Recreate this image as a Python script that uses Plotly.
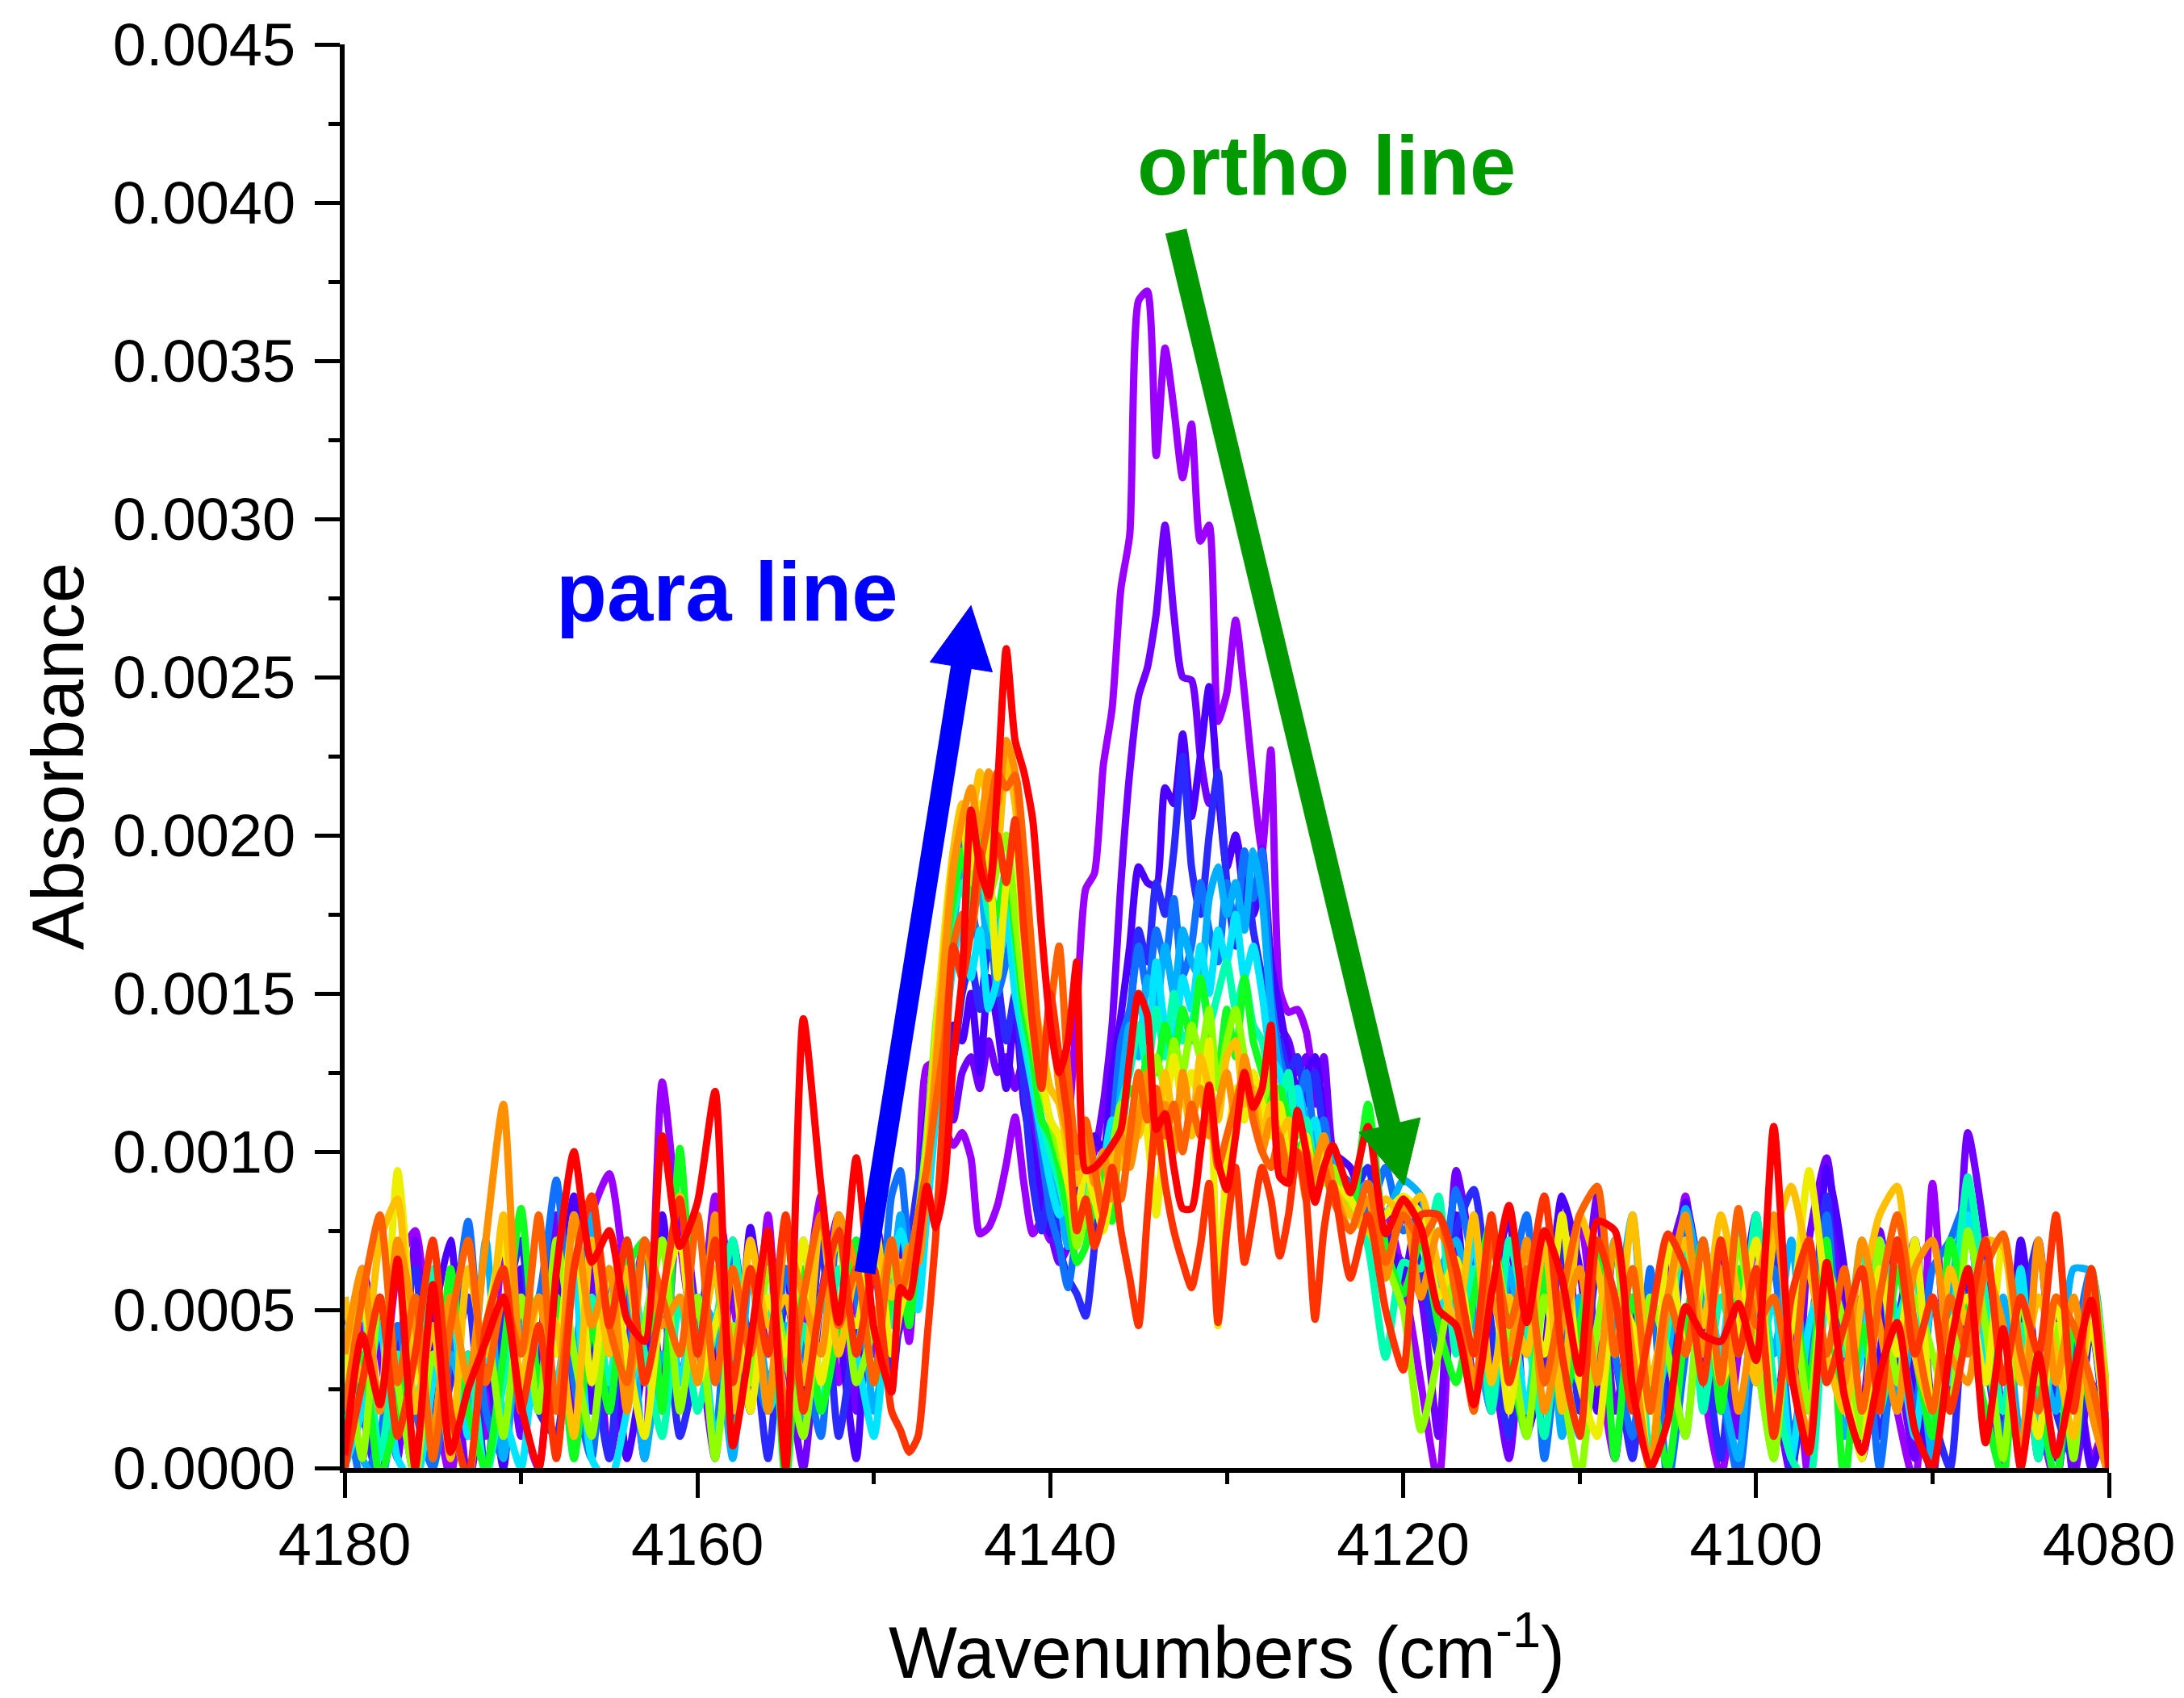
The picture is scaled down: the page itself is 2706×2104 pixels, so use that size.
import numpy as np
import plotly.graph_objects as go

# Wavenumber grid (cm^-1): 1 cm^-1 steps on the baselines, 0.5 cm^-1 across the H2 bands
wn_low = np.arange(4180, 4148.5, -1.0)      # 4180 ... 4149
wn_mid = np.arange(4148.5, 4123.75, -0.5)   # 4148.5 ... 4124
wn_high = np.arange(4123, 4079.5, -1.0)     # 4123 ... 4080
wavenumber = np.concatenate([wn_low, wn_mid, wn_high])

# Absorbance of each successive spectrum, in units of 1e-4
scan_01 = [
    0.3, 4.5, 1.8, 6.3, 7.5, 2.7, -0.3, 3.6, 1.0, 7.2, 1.8, 0.0, 5.4, 3.6, 8.0, 9.3,
    5.4, 0.3, 12.2, 7.2, 3.6, 8.6, 5.4, 1.8, 8.0, 0.3, 4.5, 8.6, 2.7, 5.4, 3.6, 7.2,
    6.0, 4.0, 8.5, 12.7, 12.8, 10.8, 10.2, 10.6, 9.8, 7.4, 7.6, 8.3, 9.6, 11.1, 9.0, 7.4,
    7.8, 7.2, 7.8, 10.5, 14.5, 18.3, 18.8, 22.2, 24.0, 27.8, 29.5, 36.9, 37.2, 32.0, 35.4, 33.5,
    31.3, 33.0, 29.3, 29.8, 23.6, 24.5, 26.8, 24.5, 21.7, 19.5, 22.7, 15.1, 14.4, 14.5, 13.8, 12.0,
    11.0, 9.5,
    9.0, 7.5, 8.0, 6.0, 2.7, -0.5, 7.2, 4.5, 1.8, 7.2, 3.6, 6.3, 1.8, 8.0, 3.6, 0.3,
    5.4, 1.8, 4.5, 8.6, 2.7, -0.3, 3.6, 7.2, 1.0, 4.5, -0.5, 8.0, 3.6, 1.0, 5.4, 1.8,
    -0.5, 9.0, 1.8, 8.0, 4.5, 0.0, 5.4, 1.8, -0.5, 3.6, 0.3, 1.8,
]
scan_02 = [
    -0.3, 6.3, 3.6, 0.3, 7.2, 1.8, 4.5, -0.5, 2.7, 5.4, 1.0, 3.6, 8.0, 1.8, 6.3, 0.3,
    3.6, 7.2, 2.7, 8.6, 4.5, 0.3, 6.3, 1.8, 7.2, 3.6, 0.0, 5.4, 8.0, 1.8, 6.3, 3.6,
    4.5, 6.0, 8.0, 10.5, 11.5, 12.0, 11.0, 12.5, 13.0, 12.0, 13.5, 12.5, 13.0, 12.0, 13.0, 10.5,
    9.0, 7.5, 6.5, 7.0, 8.5, 9.5, 10.0, 11.5, 14.0, 18.5, 22.0, 24.4, 25.3, 27.0, 29.8, 27.0,
    25.0, 24.9, 22.5, 21.0, 21.5, 19.0, 20.0, 18.5, 17.5, 19.6, 16.0, 14.0, 13.5, 12.5, 13.0, 11.5,
    13.0, 10.0,
    8.5, 9.0, 7.0, 6.5, 5.4, 1.0, 9.4, 6.3, 3.6, 0.3, 5.4, 2.7, 7.2, 4.5, 8.6, 1.8,
    4.5, -0.3, 6.3, 8.3, 3.6, 7.2, 1.0, 5.4, 2.7, -0.3, 7.2, 9.8, 4.5, 1.8, 7.5, 3.6,
    0.3, 5.4, 2.7, 10.6, 7.2, 1.8, 4.5, 0.3, 5.4, -0.3, 2.7, -0.5,
]
scan_03 = [
    1.8, 0.3, 5.4, 2.7, -0.3, 4.5, 7.2, 1.0, 3.6, 0.0, 6.3, 1.8, 4.5, 8.6, 1.8, 5.4,
    0.3, 3.6, 8.0, 2.7, 5.4, 3.6, 1.0, 7.6, 3.6, 6.3, 1.8, 7.2, 4.5, 0.3, 8.0, 5.4,
    7.0, 5.5, 8.5, 11.0, 13.0, 12.0, 14.0, 13.5, 15.0, 12.5, 15.5, 14.0, 12.0, 14.5, 11.5, 10.0,
    8.5, 7.4, 8.0, 9.5, 8.0, 9.0, 10.5, 10.0, 12.5, 14.3, 16.5, 19.0, 18.5, 18.4, 21.5, 21.0,
    23.2, 20.6, 22.5, 24.7, 21.5, 19.0, 20.0, 18.0, 17.5, 18.5, 16.0, 14.5, 13.0, 12.0, 12.5, 13.0,
    11.0, 10.0,
    9.5, 8.0, 7.5, 6.0, 8.6, 4.5, 8.0, 2.7, 5.4, 8.0, 1.0, 3.6, 8.6, 6.3, 1.8, 7.2,
    4.5, 0.3, 2.7, 8.4, 5.4, 1.8, 4.5, 8.0, 1.0, 5.4, 2.7, 9.5, 6.3, 0.3, 3.6, 7.2,
    2.7, -0.3, 5.4, 7.5, 4.5, 1.0, 7.2, 2.7, 0.3, 3.6, 0.0, 1.8,
]
scan_04 = [
    5.4, 1.8, -0.5, 3.6, 6.3, 0.3, 2.7, 5.4, -0.3, 4.5, 7.2, 1.8, 1.0, 6.3, 3.6, 0.3,
    7.2, 2.7, 5.4, 1.0, 3.6, 8.0, 1.8, 4.5, 0.3, 5.4, 2.7, 7.2, 1.0, 4.5, 6.3, 2.7,
    5.0, 7.0, 9.0, 10.5, 12.0, 14.5, 13.0, 15.0, 16.0, 14.5, 16.5, 15.5, 13.5, 15.0, 12.0, 9.0,
    7.5, 9.0, 7.0, 6.0, 5.5, 4.8, 7.0, 9.5, 11.0, 10.5, 14.0, 17.0, 16.0, 18.5, 17.5, 19.5,
    22.5, 19.0, 17.5, 20.0, 22.0, 18.5, 16.5, 19.0, 17.0, 15.5, 14.0, 13.5, 12.5, 13.0, 11.5, 12.5,
    10.5, 9.5,
    8.5, 9.5, 6.5, 8.0, 6.3, 3.6, 7.5, 8.8, 4.5, 1.0, 5.4, 2.7, 7.2, 1.8, 6.3, 3.6,
    0.3, 5.4, 1.8, 8.0, 4.5, 0.3, 5.4, 2.7, 7.2, 0.0, 3.6, 8.6, 1.8, 5.4, 1.0, 4.5,
    7.2, 1.8, 0.0, 6.3, 3.6, 0.3, 4.5, 7.2, 1.8, 0.3, 4.5, -0.3,
]
scan_05 = [
    2.7, -0.5, 1.0, 4.5, 1.8, 0.0, 3.6, 7.8, 1.8, 0.3, 4.5, 5.4, 9.1, 2.7, 0.3, 6.3,
    3.6, 7.2, 1.8, 5.4, 4.5, 1.0, 7.2, 3.6, 1.8, 6.3, 3.6, 1.0, 8.0, 5.4, 2.7, 8.6,
    9.4, 7.0, 6.5, 9.0, 12.0, 15.5, 18.0, 20.1, 18.0, 16.5, 17.5, 15.0, 16.0, 17.5, 15.0, 12.0,
    10.0, 8.0, 7.0, 5.7, 7.5, 8.5, 9.0, 8.0, 10.5, 13.5, 14.5, 16.5, 15.0, 17.0, 16.0, 18.0,
    15.5, 16.5, 18.5, 17.0, 16.0, 18.5, 17.0, 19.5, 18.0, 19.5, 15.0, 13.0, 12.0, 11.5, 12.5, 10.5,
    11.0, 9.5,
    9.0, 8.0, 9.5, 7.5, 8.0, 5.4, 8.8, 6.3, 1.8, 5.4, 8.0, 0.3, 4.5, 2.7, 7.2, 3.6,
    1.0, 6.3, -0.5, 3.6, 7.2, 2.7, -0.3, 4.5, 6.3, 1.0, 3.6, 8.0, 1.8, 5.4, 0.0, 4.5,
    1.8, 6.3, 7.2, 8.5, 3.6, 1.0, 5.4, 1.8, -0.3, 3.6, 6.3, 0.3,
]
scan_06 = [
    3.6, 0.3, -0.5, 2.7, 5.4, 1.0, 3.6, 1.8, 7.2, 0.3, 4.5, 1.8, 5.4, 3.6, 8.0, 1.8,
    6.3, 0.3, 3.6, 2.7, 5.4, 4.5, 0.3, 6.3, 2.7, 4.5, 1.0, 5.4, 3.6, 7.2, 1.8, 5.4,
    8.0, 6.0, 5.5, 8.5, 11.5, 14.0, 17.0, 19.0, 17.5, 18.5, 16.5, 17.0, 18.0, 16.0, 14.5, 12.5,
    11.0, 9.5, 8.5, 7.0, 8.0, 7.5, 9.0, 10.0, 9.5, 12.0, 14.0, 13.0, 15.5, 14.5, 16.5, 15.0,
    17.0, 16.0, 15.5, 18.0, 19.0, 17.5, 18.5, 17.0, 19.5, 18.0, 14.5, 12.5, 11.5, 12.0, 11.0, 10.5,
    9.5, 10.0,
    8.5, 9.0, 8.0, 9.1, 8.6, 6.3, 7.2, 4.5, 1.8, 6.3, 3.6, 7.2, 1.0, 5.4, 2.7, 4.5,
    8.0, 1.8, 3.6, 8.2, 5.4, 2.7, 0.3, 6.3, 3.6, 7.2, 1.8, 6.3, 1.0, 4.5, 7.2, 1.8,
    4.5, 0.3, 5.4, 8.6, 2.7, 5.4, 1.0, 3.6, 1.8, 6.3, 6.2, -0.5,
]
scan_07 = [
    0.0, 1.8, 4.5, 0.3, -0.5, 2.7, 5.4, 1.0, 3.6, 1.8, 0.0, 4.5, 2.7, 6.3, 0.3, -0.5,
    1.8, 4.5, 7.2, 2.7, 5.4, 1.0, 3.6, 6.3, 1.8, 3.6, 7.2, 2.7, 5.4, 3.6, 1.0, 6.3,
    7.5, 6.5, 5.0, 8.0, 11.0, 13.5, 16.0, 17.5, 15.5, 17.0, 14.5, 15.5, 17.5, 15.0, 13.5, 12.0,
    10.5, 9.0, 8.0, 8.5, 7.5, 9.0, 8.0, 9.5, 11.0, 10.5, 13.0, 15.0, 13.5, 16.0, 14.0, 13.5,
    15.5, 14.5, 16.5, 15.0, 17.0, 16.0, 17.5, 15.5, 16.5, 15.0, 13.0, 12.5, 11.0, 12.0, 10.5, 11.0,
    9.5, 9.0,
    8.0, 8.5, 7.5, 8.0, 8.0, 5.4, 4.5, 7.2, 2.7, 5.4, 1.8, 6.3, 3.6, 1.0, 4.5, 7.2,
    1.8, 5.4, 3.6, 1.0, 6.3, 3.6, 8.0, 2.7, 5.4, 0.3, 4.5, 6.3, 1.8, 3.6, 7.2, 4.5,
    1.0, 5.4, 2.7, 8.0, 3.6, 1.8, 6.3, 1.0, 3.6, 2.7, 6.3, -0.3,
]
scan_08 = [
    1.8, 5.4, 0.3, 3.6, 1.8, 6.3, 1.0, 3.6, -0.3, 2.7, 5.4, 1.8, 4.5, 0.3, 5.4, 2.7,
    7.2, 3.6, 1.0, 5.4, 1.8, 4.5, 7.2, 2.7, 5.4, 1.0, 4.5, 1.8, 6.3, 3.6, 7.2, 4.5,
    6.5, 5.0, 7.0, 9.5, 12.5, 15.0, 17.5, 18.5, 17.0, 19.0, 17.5, 16.5, 18.5, 16.5, 14.0, 12.5,
    11.0, 10.0, 9.0, 8.0, 8.5, 7.5, 9.0, 8.5, 10.0, 11.5, 12.5, 14.0, 12.5, 14.5, 13.0, 15.0,
    13.5, 14.0, 15.5, 14.0, 15.0, 16.0, 14.5, 15.5, 14.0, 13.5, 12.0, 11.5, 12.5, 10.5, 11.0, 9.5,
    10.0, 8.5,
    8.5, 7.0, 3.5, 6.5, 6.3, 8.6, 3.6, 6.3, 1.8, 7.2, 4.5, 1.0, 5.4, 2.7, 7.2, 3.6,
    6.3, 0.3, 4.5, 7.2, 1.8, 5.4, 3.6, 8.0, 2.7, 0.3, -0.5, 5.4, 3.6, 7.2, 1.8, 4.5,
    6.3, 1.0, 3.6, 9.2, 5.4, 1.8, 4.5, 0.3, 5.4, 2.7, 4.5, 0.0,
]
scan_09 = [
    1.0, 3.6, -0.3, 1.8, 5.4, 0.3, 6.3, 1.8, 0.0, 3.6, 8.2, 2.7, 5.4, 0.3, 4.5, 1.8,
    6.3, 7.2, 1.8, 10.1, 3.6, 6.3, 1.0, 3.6, 7.2, -0.5, 6.3, 1.8, 4.5, 7.2, 2.7, 5.4,
    6.0, 4.5, 7.5, 10.0, 13.5, 16.0, 18.0, 19.5, 18.0, 20.5, 18.5, 17.5, 19.0, 17.0, 14.5, 13.0,
    11.0, 10.5, 9.5, 8.0, 6.5, 7.0, 8.5, 9.5, 7.8, 11.0, 12.0, 11.5, 13.0, 12.5, 14.0, 13.0,
    14.5, 13.5, 15.5, 14.0, 12.5, 14.5, 13.0, 15.5, 13.5, 12.5, 11.5, 12.0, 11.0, 10.0, 10.5, 9.5,
    10.5, 9.0,
    8.0, 11.5, 7.0, 5.5, 7.2, 4.5, 2.7, 5.4, 7.8, 3.6, 1.0, 6.3, 1.8, 4.5, 7.2, 0.3,
    5.4, 2.7, 0.0, 4.5, 7.2, 1.8, 6.3, 3.6, 0.3, 5.4, 2.7, 7.2, -0.5, 4.5, 1.8, 6.3,
    3.6, 1.0, 7.2, 4.5, 1.8, -0.3, 5.4, 2.7, -0.5, 4.5, 1.8, 0.3,
]
scan_10 = [
    4.5, 0.3, 5.4, 2.7, -0.3, 3.6, 1.8, -0.5, 4.5, 1.0, 5.4, 1.8, 7.2, 3.6, 1.0, 5.4,
    2.7, 4.5, 7.2, 1.8, 5.4, 0.3, 4.5, 2.7, 6.3, 3.6, 1.0, 5.4, 7.2, 2.7, 4.5, 6.3,
    5.5, 6.5, 8.0, 10.5, 14.0, 16.5, 19.0, 20.5, 18.5, 19.5, 18.0, 19.0, 20.0, 17.5, 15.0, 13.5,
    12.0, 11.0, 10.0, 9.0, 7.0, 8.0, 9.5, 8.5, 10.0, 11.5, 10.5, 12.0, 11.5, 13.0, 12.0, 13.5,
    12.5, 14.0, 13.0, 14.5, 12.0, 13.5, 14.5, 13.0, 12.0, 11.5, 12.5, 11.0, 10.5, 11.0, 10.0, 9.5,
    9.0, 9.5,
    8.0, 7.5, 6.5, 5.0, 1.2, 3.6, 6.3, 1.8, 7.2, 4.5, 1.0, 5.4, 2.7, -0.3, 4.5, 7.2,
    1.8, 5.4, 3.6, 1.0, 6.3, 2.7, 7.2, 3.6, 0.3, 5.4, 1.8, 6.3, 4.5, 1.0, 7.2, 2.7,
    5.4, 3.6, 1.8, 7.5, 4.5, 0.3, 5.4, 2.7, 4.5, 0.3, 6.3, 1.8,
]
scan_11 = [
    2.7, 5.4, 1.8, 9.4, 3.6, 1.0, 5.4, 2.7, 4.5, 7.2, 1.8, 5.4, 3.6, 8.0, 2.7, 6.3,
    3.6, 1.0, 5.4, 7.2, 2.7, 4.5, 6.3, 1.8, 5.4, 3.6, 7.2, 2.7, 5.4, 4.5, 8.0, 3.6,
    5.0, 6.0, 7.5, 10.0, 13.5, 17.0, 19.5, 20.5, 19.0, 21.0, 19.5, 15.5, 18.5, 20.0, 16.5, 14.0,
    12.5, 11.0, 10.5, 9.0, 8.0, 9.5, 8.5, 7.5, 9.0, 10.5, 9.5, 11.5, 10.5, 8.0, 11.0, 13.0,
    11.5, 12.5, 11.5, 13.5, 4.5, 10.0, 12.0, 11.0, 12.5, 11.5, 10.5, 11.5, 10.0, 9.5, 10.5, 9.0,
    10.0, 9.0,
    8.5, 7.5, 8.0, 8.6, 8.0, 5.4, 6.6, 3.6, 6.3, 1.8, 5.4, 3.6, 8.0, 2.7, 1.0, 5.4,
    4.5, -0.5, 7.2, 3.6, 6.3, 2.7, 4.5, 7.2, 1.8, 4.5, 9.4, 5.4, 2.7, 0.3, 6.3, 3.6,
    7.2, 1.8, 4.5, 5.4, 2.7, 7.2, 3.6, 1.0, 5.4, 1.8, 4.5, 0.3,
]
scan_12 = [
    5.4, 2.7, 7.2, 8.5, 1.8, 4.5, 0.3, 6.3, 3.6, 8.0, 2.7, 5.4, 4.5, 1.0, 7.2, 3.6,
    6.3, 2.7, 5.4, 8.6, 3.6, 6.3, 1.8, 7.2, 4.5, 5.4, 2.7, 8.0, 3.6, 6.3, 7.2, 5.4,
    6.5, 5.5, 7.0, 9.5, 13.0, 16.5, 19.5, 21.0, 20.5, 22.0, 21.0, 19.5, 22.5, 21.0, 18.0, 15.0,
    13.5, 12.0, 11.5, 10.0, 9.0, 10.0, 9.0, 8.5, 10.0, 9.5, 11.0, 10.5, 12.0, 10.5, 12.5, 11.0,
    12.0, 10.5, 13.0, 12.0, 11.0, 13.0, 13.5, 11.5, 12.0, 10.5, 11.5, 10.5, 11.0, 9.5, 10.0, 9.5,
    10.5, 9.0,
    8.0, 7.5, 8.5, 8.0, 8.6, 6.3, 4.5, 8.0, 2.7, 5.4, 3.6, 7.2, 1.8, 8.0, 6.3, 3.6,
    8.0, 2.7, 5.4, 7.2, 4.5, 8.0, 5.4, 2.7, 7.2, 8.9, 6.3, 3.6, 1.8, 5.4, 8.0, 8.9,
    3.6, 1.8, 6.3, 4.5, 7.2, 7.0, 2.7, 5.4, 3.6, 1.0, 5.4, 1.8,
]
scan_13 = [
    3.6, 6.3, 1.8, 7.2, 4.5, 1.0, 5.4, 2.7, 7.2, 11.5, 3.6, 5.4, 1.8, 8.0, 4.5, 6.3,
    1.8, 7.2, 4.5, 5.4, 2.7, 8.0, 3.6, 6.3, 1.8, 7.2, 5.4, 3.6, 8.0, 6.3, 4.5, 7.2,
    6.0, 7.0, 6.5, 9.0, 12.5, 16.0, 19.0, 20.5, 21.5, 20.0, 22.0, 21.0, 23.0, 22.0, 18.5, 15.5,
    13.0, 14.5, 12.0, 10.5, 9.5, 10.5, 9.0, 10.0, 8.5, 10.5, 9.5, 11.0, 12.5, 10.0, 11.5, 10.0,
    12.5, 11.0, 12.0, 10.5, 11.5, 12.5, 11.0, 13.0, 11.5, 10.0, 11.0, 10.5, 9.5, 10.0, 8.5, 9.5,
    10.5, 9.0,
    7.5, 8.5, 6.0, 8.5, 5.4, 7.5, 6.3, 2.7, 5.4, 3.6, 7.2, 1.8, 4.5, 6.3, 2.7, 7.2,
    3.6, 0.0, 5.4, 8.0, 3.6, 6.3, 1.8, 5.4, 8.0, 3.6, 1.0, 6.3, 2.7, 7.2, 4.5, 1.8,
    6.3, 7.2, 3.6, 2.7, 6.3, 4.5, 0.3, 7.2, 2.7, 5.4, 1.8, -0.3,
]
scan_14 = [
    1.8, 5.4, 8.0, 2.7, 5.4, 0.3, 4.5, 7.2, 2.7, 5.4, 3.6, 8.0, 1.8, 6.3, 8.6, 4.5,
    2.7, 7.2, 5.4, 3.6, 8.0, 2.7, 6.3, 3.6, 7.2, 1.8, 5.4, 8.0, 4.5, 6.3, 2.7, 7.2,
    5.5, 6.5, 8.0, 9.5, 11.5, 13.5, 16.5, 17.5, 17.0, 19.0, 20.5, 22.0, 21.5, 21.9, 19.5, 16.0,
    13.0, 14.5, 16.5, 12.5, 10.0, 11.0, 9.5, 8.0, 9.5, 8.5, 10.5, 12.5, 11.0, 12.0, 10.5, 11.5,
    10.0, 11.5, 10.5, 11.5, 9.5, 10.5, 11.5, 12.5, 11.0, 10.0, 9.5, 10.5, 9.0, 10.0, 9.5, 8.5,
    9.5, 8.5,
    7.5, 9.0, 6.5, 8.0, 7.2, 8.0, 5.4, 1.8, 7.2, 4.5, 6.3, 2.7, 5.4, 8.0, 8.9, 3.6,
    6.3, 1.8, 5.4, 3.6, 7.2, 2.7, 8.2, 4.5, 5.4, 2.7, 7.2, 3.6, 6.3, 1.8, 5.4, 8.0,
    4.5, 1.8, 5.4, 3.6, 6.3, 7.4, 3.6, 1.8, 5.4, 4.5, 2.7, 0.3,
]
scan_15 = [
    0.0, 2.7, 5.4, 1.0, 3.6, 7.2, 1.8, -0.3, 4.5, 6.3, 1.8, 4.5, 0.3, 6.3, 8.6, 4.5,
    7.2, 2.7, 5.4, 8.5, 3.6, 7.2, 2.7, 6.3, 3.6, 8.0, 1.8, 5.4, 7.5, 3.6, 6.3, 1.8,
    1.2, 0.5, 1.0, 4.0, 7.3, 12.0, 16.5, 15.5, 17.0, 19.5, 18.0, 20.0, 18.5, 20.5, 17.0, 14.0,
    12.0, 15.0, 13.0, 11.0, 7.5, 8.5, 7.0, 8.0, 9.5, 7.5, 6.0, 4.5, 8.0, 11.0, 9.0, 7.5,
    6.5, 5.7, 7.0, 9.0, 4.6, 7.5, 9.5, 6.5, 8.0, 9.5, 8.5, 6.7, 8.0, 10.0, 8.5, 4.7,
    7.5, 9.0,
    6.0, 8.0, 5.0, 3.1, 8.0, 8.0, 6.3, 3.6, 8.0, 2.7, 5.4, 8.6, 3.6, 1.0, 7.2, 5.4,
    1.8, 4.5, 7.4, 6.3, 2.7, 7.2, 3.6, 6.3, 1.0, 5.4, 7.2, 2.7, 4.5, 6.3, 1.8, 7.2,
    3.6, 5.4, 1.8, 4.5, 7.2, 2.7, 5.4, 3.6, 8.0, 1.8, 6.3, -0.3,
]
scan_16 = [
    0.4, 4.2, 2.0, 6.6, 0.0, 5.8, 0.5, 2.5, 4.0, 5.4, 2.0, 0.0, 6.2, 10.0, 6.5, 7.5,
    4.7, 4.0, 10.5, 7.0, 8.4, 11.9, 0.7, 4.0, 7.5, 0.0, 14.2, 8.9, 4.6, 9.8, 4.4, 2.4,
    5.7, 5.4, 7.0, 8.9, 7.6, 9.0, 12.9, 15.5, 20.8, 19.0, 18.1, 21.5, 25.9, 23.0, 22.0, 20.5,
    17.0, 14.0, 12.5, 13.5, 16.0, 9.4, 9.5, 9.8, 10.2, 10.7, 13.0, 15.0, 14.3, 10.7, 11.2, 9.5,
    8.2, 8.2, 10.0, 12.1, 9.7, 8.8, 10.5, 12.5, 11.4, 12.0, 14.0, 9.2, 9.0, 11.3, 10.0, 8.4,
    9.5, 10.2,
    8.7, 10.8, 7.4, 8.5, 7.6, 5.0, 4.5, 2.0, 5.5, 8.3, 4.6, 7.5, 6.0, 3.0, 7.8, 7.5,
    2.5, 0.0, 1.5, 5.1, 4.2, 4.0, 5.2, 3.4, 10.8, 3.0, 0.5, 6.5, 2.3, 0.5, 3.0, 4.6,
    1.2, 0.0, 3.8, 6.3, 0.8, 4.4, 0.0, 3.6, 0.4, 3.0, 5.3, 0.0,
]

scans = [scan_01, scan_02, scan_03, scan_04, scan_05, scan_06, scan_07, scan_08,
         scan_09, scan_10, scan_11, scan_12, scan_13, scan_14, scan_15, scan_16]

# Rainbow sequence, first spectrum (violet) to last (red)
scan_colors = ['#9900FF', '#7000FF', '#4B00FF', '#2A2AFF', '#1070FF', '#00B0FF',
               '#00E5FF', '#00FFB0', '#10FF20', '#90FF00', '#EEEE00', '#FFC000',
               '#FF9000', '#FF6000', '#FF3300', '#FF0000']

ABS_UNIT = 1e-4

x_ticks = [4180, 4160, 4140, 4120, 4100, 4080]
x_minor = [4170, 4150, 4130, 4110, 4090]
y_ticks = [0.0, 0.0005, 0.0010, 0.0015, 0.0020, 0.0025, 0.0030, 0.0035, 0.0040, 0.0045]
y_minor = [0.00025, 0.00075, 0.00125, 0.00175, 0.00225, 0.00275, 0.00325, 0.00375, 0.00425]

X_RANGE = [4180, 4080]
Y_RANGE = [0, 0.0045]

FIG_W, FIG_H = 2706, 2104
MARGIN = dict(l=427, r=93, t=55, b=285, pad=0)
PLOT_W = FIG_W - MARGIN['l'] - MARGIN['r']
PLOT_H = FIG_H - MARGIN['t'] - MARGIN['b']

FONT = 'Liberation Sans, Arial, Helvetica, sans-serif'

for i, s in enumerate(scans):
    if len(s) != len(wavenumber):
        raise ValueError(f'scan_{i + 1:02d} has {len(s)} points, expected {len(wavenumber)}')

fig = go.Figure()
for i, (vals, color) in enumerate(zip(scans, scan_colors)):
    fig.add_trace(go.Scatter(
        x=wavenumber, y=np.array(vals) * ABS_UNIT, mode='lines',
        name=f'scan {i + 1}', showlegend=False,
        line=dict(color=color, width=9, shape='spline', smoothing=0.6),
    ))


# Thick arrows (shaft + triangular head) drawn as shapes in data coordinates
def _to_px(wn, a):
    sx = PLOT_W / (X_RANGE[0] - X_RANGE[1])
    sy = PLOT_H / (Y_RANGE[1] - Y_RANGE[0])
    return np.array([(X_RANGE[0] - wn) * sx, (a - Y_RANGE[0]) * sy])


def _to_data(p):
    sx = PLOT_W / (X_RANGE[0] - X_RANGE[1])
    sy = PLOT_H / (Y_RANGE[1] - Y_RANGE[0])
    return X_RANGE[0] - p[0] / sx, Y_RANGE[0] + p[1] / sy


def add_arrow(tail, tip, shaft_w, head_len, head_w, color):
    p0 = _to_px(*tail)
    p1 = _to_px(*tip)
    d = (p1 - p0) / np.linalg.norm(p1 - p0)
    n = np.array([-d[1], d[0]])
    base = p1 - head_len * d
    shaft_end = _to_data(base + 2 * d)
    fig.add_shape(type='line', xref='x', yref='y',
                  x0=tail[0], y0=tail[1], x1=shaft_end[0], y1=shaft_end[1],
                  line=dict(color=color, width=shaft_w))
    c1 = _to_data(base + 0.5 * head_w * n)
    c2 = _to_data(base - 0.5 * head_w * n)
    path = (f'M {tip[0]},{tip[1]} L {c1[0]},{c1[1]} '
            f'L {c2[0]},{c2[1]} Z')
    fig.add_shape(type='path', xref='x', yref='y', path=path,
                  fillcolor=color, line=dict(color=color, width=1))


# para line grows, ortho line decays
add_arrow((4150.51, 0.000617), (4144.50, 0.002726), 26, 77, 78, '#0000FF')
add_arrow((4132.88, 0.00391), (4119.95, 0.000893), 27, 77, 78, '#009900')

fig.add_annotation(x=4158.32, y=0.00277, xref='x', yref='y', text='<b>para line</b>',
                   showarrow=False, xanchor='center', yanchor='middle',
                   font=dict(family=FONT, size=103, color='#0000FF'))
fig.add_annotation(x=4124.35, y=0.004115, xref='x', yref='y', text='<b>ortho line</b>',
                   showarrow=False, xanchor='center', yanchor='middle',
                   font=dict(family=FONT, size=103, color='#009900'))

axis_common = dict(
    showline=True, linewidth=6, linecolor='black', mirror=False,
    showgrid=False, zeroline=False,
    ticks='outside', ticklen=31, tickwidth=5, tickcolor='black',
    tickfont=dict(family=FONT, size=74, color='black'),
)

fig.update_xaxes(
    range=X_RANGE, tickmode='array', tickvals=x_ticks,
    ticktext=[str(v) for v in x_ticks], ticklabelstandoff=-6,
    minor=dict(tickmode='array', tickvals=x_minor, ticks='outside',
               ticklen=14, tickwidth=5, tickcolor='black', showgrid=False),
    title=dict(text='Wavenumbers (cm<sup>-1</sup>)', standoff=64,
               font=dict(family=FONT, size=90, color='black')),
    **axis_common,
)
fig.update_yaxes(
    range=Y_RANGE, tickmode='array', tickvals=y_ticks,
    ticktext=[f'{v:.4f}' for v in y_ticks], ticklabelstandoff=9,
    minor=dict(tickmode='array', tickvals=y_minor, ticks='outside',
               ticklen=14, tickwidth=5, tickcolor='black', showgrid=False),
    title=dict(text='Absorbance', standoff=8,
               font=dict(family=FONT, size=90, color='black')),
    **axis_common,
)

fig.update_layout(
    width=FIG_W, height=FIG_H, autosize=False,
    margin=MARGIN,
    paper_bgcolor='white', plot_bgcolor='white',
    showlegend=False,
)

fig.write_html('out.html')
